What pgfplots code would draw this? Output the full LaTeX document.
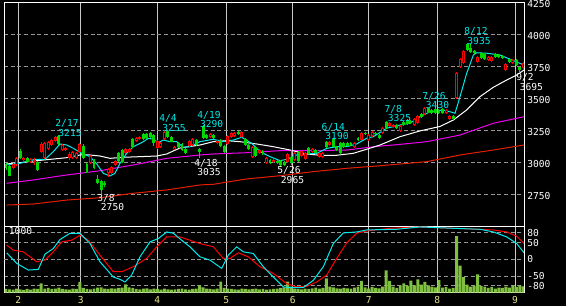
\documentclass[border=0pt]{standalone}
\usepackage{pgfplots}
\usepackage{pgfplotstable}
\pgfplotsset{compat=1.18}
\usepackage{fontspec}
\setmainfont{DejaVu Sans Mono}
\newcommand\lab{\fontsize{7.2}{8}\selectfont}
\definecolor{cgreen}{RGB}{0,215,0}
\definecolor{cred}{RGB}{255,0,0}
\definecolor{ccyan}{RGB}{0,235,235}
\definecolor{cmag}{RGB}{240,0,240}
\definecolor{cmared}{RGB}{230,30,0}
\definecolor{cvol}{RGB}{128,192,64}
\definecolor{cgrid}{RGB}{150,150,150}
\definecolor{cvgrid}{RGB}{200,200,200}
\definecolor{cxlab}{RGB}{230,230,140}

\pgfplotstableread{
i o h l c
2 2953 2992 2945 2984
3 2979 3045 2972 3036
5 3018 3045 3010 3036
7 3000 3034 2992 3026
8 3005 3034 2979 3016
10 3080 3155 3072 3143
11 3034 3160 3026 3151
12 3104 3167 3096 3159
13 3135 3185 3128 3174
14 3166 3208 3158 3200
16 3096 3143 3088 3135
17 3094 3120 3085 3109
18 3036 3080 3018 3063
19 3031 3088 3024 3078
20 3036 3080 3028 3070
21 3083 3150 3075 3141
24 2995 3057 2987 3049
29 2914 2953 2888 2945
30 2914 2970 2906 2961
31 2979 3020 2972 3013
34 3070 3110 3062 3102
35 3083 3112 3075 3102
37 3169 3196 3160 3188
38 3180 3205 3172 3195
43 3109 3172 3100 3166
44 3120 3160 3112 3151
45 3180 3255 3172 3239
48 3102 3130 3094 3122
52 3127 3177 3120 3169
53 3135 3190 3128 3180
58 3200 3228 3192 3221
60 3153 3177 3145 3169
63 3143 3213 3135 3205
64 3195 3240 3188 3231
65 3205 3240 3198 3231
67 3195 3247 3188 3239
70 3039 3125 3031 3117
72 3070 3104 3062 3096
74 2995 3042 2987 3034
76 3002 3026 2995 3018
80 3005 3072 2997 3065
82 3018 3083 3010 3075
84 3049 3099 3042 3091
85 3023 3078 3016 3070
87 3083 3110 3075 3102
89 3044 3078 3036 3070
90 3039 3078 3031 3070
92 3135 3170 3128 3161
99 3117 3161 3110 3153
101 3174 3235 3166 3227
103 3174 3221 3166 3213
104 3205 3247 3198 3239
107 3227 3275 3220 3266
109 3284 3313 3276 3305
110 3278 3300 3270 3291
112 3247 3292 3240 3284
116 3291 3345 3284 3336
117 3305 3370 3297 3362
119 3377 3430 3370 3422
125 3383 3416 3375 3409
126 3338 3370 3330 3362
128 3500 3705 3495 3695
129 3747 3813 3740 3805
130 3778 3880 3770 3872
134 3786 3828 3778 3820
137 3799 3833 3791 3825
138 3794 3833 3786 3825
142 3721 3776 3713 3768
144 3778 3807 3770 3799
147 3734 3781 3726 3773
}\upc

\pgfplotstableread{
i o h l c
0 2984 2997 2940 2953
1 2973 2987 2890 2895
4 3088 3104 3024 3031
6 3036 3045 2998 3005
9 3005 3013 2932 2940
15 3205 3215 3133 3141
22 3130 3140 3024 3031
23 2984 2992 2918 2927
25 3018 3026 2947 2955
26 2870 2901 2830 2838
27 2856 2865 2750 2784
28 2841 2850 2805 2823
32 3070 3078 3005 3013
33 3096 3104 2998 3005
36 3180 3188 3115 3122
39 3221 3228 3172 3180
40 3221 3230 3180 3188
41 3227 3235 3192 3200
42 3213 3220 3127 3148
46 3247 3252 3192 3200
47 3200 3208 3155 3161
49 3148 3156 3110 3117
50 3143 3150 3088 3096
51 3102 3110 3062 3070
54 3174 3182 3128 3135
55 3102 3110 3035 3083
56 3284 3290 3180 3188
57 3213 3220 3180 3188
59 3213 3220 3180 3188
61 3174 3182 3120 3127
62 3127 3135 3075 3083
66 3239 3247 3213 3221
68 3180 3188 3128 3135
69 3135 3143 3094 3102
71 3122 3130 3042 3049
73 3091 3099 3057 3065
75 3018 3026 2987 2995
77 3013 3020 2990 2997
78 3013 3020 2965 2979
79 3005 3013 2972 2979
81 3044 3096 2979 2992
83 3083 3091 3005 3013
86 3109 3117 3062 3070
88 3096 3104 3062 3070
91 3161 3170 3115 3122
93 3180 3190 3112 3120
94 3122 3130 3088 3096
95 3148 3156 3068 3075
96 3153 3161 3110 3117
97 3153 3161 3120 3127
98 3148 3156 3128 3135
100 3188 3196 3166 3174
102 3231 3240 3213 3221
105 3231 3240 3213 3221
106 3213 3221 3180 3188
108 3317 3325 3258 3266
111 3291 3300 3258 3266
113 3317 3325 3284 3291
114 3330 3338 3291 3299
115 3325 3333 3297 3305
118 3377 3385 3344 3352
120 3422 3428 3388 3395
121 3409 3416 3380 3388
122 3414 3422 3380 3388
123 3409 3416 3380 3388
124 3414 3422 3380 3388
127 3362 3370 3330 3336
131 3924 3935 3870 3877
132 3891 3924 3856 3864
133 3872 3880 3844 3852
135 3852 3860 3805 3813
136 3846 3854 3797 3805
139 3846 3856 3817 3825
140 3838 3846 3817 3825
141 3830 3838 3805 3813
143 3805 3813 3778 3786
145 3799 3807 3752 3760
146 3747 3755 3695 3721
}\downc

\pgfplotsset{
  ebar/.style={draw=none, mark=none, forget plot,
    error bars/.cd, y dir=plus, y explicit, error mark=none,
    error bar style={#1}},
}

\begin{document}
\begin{tikzpicture}
\fill[black] (0,0) rectangle (424.5pt,229.5pt);

% ---------------- main price panel ----------------
\begin{axis}[
  at={(3pt,59.775pt)}, anchor=south west, scale only axis,
  width=390pt, height=168pt,
  xmin=-0.57, xmax=147.16, ymin=2500, ymax=4250,
  axis line style={white, line width=0.75pt},
  major tick length=0pt, tick style={draw=none},
  xtick={3.49,21.22,42.98,62.59,81.45,103.04,122.53,144.6}, xticklabels={},
  ytick={2750,3000,3250,3500,3750,4000},
  yticklabels={2750,3000,3250,3500,3750,4000},
  extra y ticks={4250}, extra y tick labels={4250},
  extra y tick style={ymajorgrids=false},
  yticklabel pos=right,
  yticklabel style={anchor=west, inner sep=0pt, xshift=2.25pt, yshift=-1.1pt, text=white, font=\lab},
  xmajorgrids, ymajorgrids,
  x grid style={cvgrid, line width=0.75pt},
  y grid style={cgrid, line width=0.75pt, dash pattern=on 3pt off 2pt},
]
\addplot[cmared, line width=0.75pt] coordinates {(0.2,2666)(7.76,2674)(17.24,2705)(26.7,2723)(36.16,2758)(45.65,2784)(55.11,2823)(58.89,2828)(68.38,2870)(77.84,2895)(87.3,2927)(96.79,2953)(106.25,2973)(119.52,3005)(128.98,3057)(138.44,3096)(147.16,3135)};
\addplot[cmag, line width=0.75pt] coordinates {(0.2,2836)(7.76,2862)(17.24,2901)(26.7,2934)(36.16,2979)(45.65,3031)(55.11,3057)(58.89,3065)(68.38,3075)(77.84,3091)(87.3,3091)(96.79,3096)(106.25,3127)(110.03,3135)(119.52,3161)(128.98,3213)(138.44,3305)(147.16,3356)};
\addplot[white, line width=0.75pt] coordinates {(0.2,2987)(3.98,2997)(7.76,3010)(12.5,3023)(17.24,3036)(21.02,3057)(23.86,3057)(26.7,3049)(29.55,3031)(33.32,3039)(38.07,3044)(42.81,3049)(45.65,3065)(49.43,3112)(55.11,3135)(58.89,3161)(62.7,3169)(66.48,3161)(71.22,3143)(75.94,3122)(80.68,3096)(85.43,3065)(89.2,3055)(93.95,3055)(98.66,3070)(102.47,3102)(106.25,3135)(111.93,3200)(117.61,3245)(123.3,3280)(127.07,3330)(130.88,3409)(134.66,3513)(138.44,3586)(142.24,3643)(145.09,3682)(147.16,3721)};
\addplot[ccyan, line width=0.75pt] coordinates {(0.2,2979)(3.98,2992)(8.24,3023)(11.08,3023)(13.44,3083)(15.34,3143)(17.24,3135)(19.12,3109)(21.5,3070)(23.86,3044)(25.77,2987)(27.64,2914)(29.55,2893)(30.97,2914)(32.39,2992)(34.29,3070)(36.16,3122)(39.0,3161)(40.43,3187)(41.85,3180)(43.27,3153)(44.69,3174)(46.59,3161)(48.49,3161)(50.37,3117)(52.27,3122)(55.11,3161)(58.89,3180)(61.73,3161)(64.57,3174)(66.96,3195)(69.8,3148)(72.16,3083)(75.0,3044)(77.84,3013)(79.74,3023)(82.59,3057)(85.43,3065)(88.27,3070)(91.11,3109)(93.95,3122)(96.79,3122)(99.63,3143)(102.47,3188)(104.35,3200)(108.15,3266)(111.93,3291)(114.77,3305)(117.61,3356)(120.45,3395)(124.23,3409)(126.14,3395)(127.56,3383)(128.98,3513)(130.88,3695)(132.76,3838)(133.72,3856)(136.56,3852)(140.34,3838)(143.18,3805)(146.02,3773)(147.16,3760)};
% up candles: red hollow
\addplot[ebar={draw=cred, line width=0.75pt}] table[x=i, y=l, y error plus expr=\thisrow{h}-\thisrow{l}] {\upc};
\addplot[ebar={draw=cred, line width=2.25pt}] table[x=i, y=o, y error plus expr=\thisrow{c}-\thisrow{o}] {\upc};
\addplot[ebar={draw=black, line width=0.75pt}] table[x=i, y expr=\thisrow{o}+7.8125, y error plus expr={max(\thisrow{c}-\thisrow{o}-15.625,0)}] {\upc};
% down candles: green filled
\addplot[ebar={draw=cgreen, line width=0.75pt}] table[x=i, y=l, y error plus expr=\thisrow{h}-\thisrow{l}] {\downc};
\addplot[ebar={draw=cgreen, line width=2.2pt}] table[x=i, y=c, y error plus expr=\thisrow{o}-\thisrow{c}] {\downc};
\end{axis}

% ---------------- volume panel ----------------
\begin{axis}[
  at={(3pt,10.05pt)}, anchor=south west, scale only axis,
  width=390pt, height=49.725pt,
  xmin=-0.57, xmax=147.16, ymin=0, ymax=1000,
  axis line style={white, line width=0.75pt},
  major tick length=0pt, tick style={draw=none},
  xtick={3.49,21.22,42.98,62.59,81.45,103.04,122.53,144.6},
  xticklabels={2,3,4,5,6,7,8,9},
  xticklabel style={anchor=north, inner sep=0pt, yshift=-2.6pt, text=cxlab, font=\lab},
  ytick={100,250,750,900}, yticklabels={-80,-50,50,80},
  extra y ticks={500}, extra y tick labels={0},
  extra y tick style={major grid style={white, line width=0.75pt, dash pattern=on 3pt off 2pt}},
  yticklabel pos=right,
  yticklabel style={anchor=west, inner sep=0pt, xshift=2.25pt, text=white, font=\lab},
  xmajorgrids, ymajorgrids,
  x grid style={cvgrid, line width=0.75pt},
  y grid style={cgrid, line width=0.75pt, dash pattern=on 3pt off 2pt},
]
\addplot[ybar, bar width=2.2pt, fill=cvol, draw=none] coordinates {(0,55)(1,50)(2,45)(3,60)(4,50)(5,40)(6,55)(7,45)(8,60)(9,55)(10,140)(11,60)(12,70)(13,55)(14,60)(15,75)(16,55)(17,50)(18,45)(19,60)(20,55)(21,160)(22,70)(23,55)(24,50)(25,60)(26,75)(27,80)(28,60)(29,55)(30,65)(31,60)(32,70)(33,75)(34,125)(35,80)(36,70)(37,55)(38,50)(39,60)(40,65)(41,50)(42,60)(43,55)(44,45)(45,60)(46,50)(47,45)(48,50)(49,55)(50,60)(51,50)(52,45)(53,55)(54,60)(55,110)(56,80)(57,60)(58,55)(59,50)(60,60)(61,165)(62,70)(63,60)(64,55)(65,50)(66,45)(67,60)(68,55)(69,50)(70,55)(71,60)(72,50)(73,55)(74,45)(75,50)(76,55)(77,60)(78,70)(79,80)(80,165)(81,90)(82,60)(83,55)(84,50)(85,60)(86,55)(87,65)(88,75)(89,60)(90,70)(91,215)(92,90)(93,80)(94,65)(95,60)(96,70)(97,65)(98,60)(99,75)(100,90)(101,175)(102,80)(103,60)(104,85)(105,70)(106,65)(107,90)(108,335)(109,175)(110,90)(111,70)(112,110)(113,140)(114,100)(115,180)(116,110)(117,200)(118,120)(119,160)(120,110)(121,90)(122,80)(123,190)(124,75)(125,85)(126,60)(127,70)(128,850)(129,405)(130,235)(131,120)(132,90)(133,100)(134,275)(135,100)(136,90)(137,70)(138,85)(139,60)(140,75)(141,70)(142,90)(143,75)(144,110)(145,85)(146,110)(147,95)};
\end{axis}

% ---------------- oscillator ----------------
\begin{axis}[
  at={(3pt,10.05pt)}, anchor=south west, scale only axis,
  width=390pt, height=49.725pt,
  xmin=-0.57, xmax=147.16, ymin=-100, ymax=100,
  hide axis,
]
\addplot[cred, line width=0.75pt] coordinates {(0.2,43)(2.07,28)(4.91,23)(8.72,-7)(11.08,-2)(13.44,23)(15.82,53)(18.66,58)(21.02,73)(23.38,58)(26.7,13)(30.48,-37)(32.87,-37)(36.16,-22)(39.97,3)(42.81,38)(45.65,68)(49.43,68)(52.27,58)(55.11,48)(58.89,38)(61.73,3)(63.64,3)(66.0,20)(68.84,8)(72.16,-22)(75.94,-42)(79.74,-73)(82.59,-83)(85.43,-81)(88.27,-68)(91.11,-47)(93.95,3)(96.79,50)(99.63,79)(102.47,86)(109.09,94)(117.61,98)(127.07,94)(138.44,89)(142.24,83)(145.09,70)(147.16,48)};
\addplot[ccyan, line width=0.75pt] coordinates {(0.2,20)(3.04,-12)(6.34,-32)(9.18,-30)(11.08,16)(13.44,33)(15.34,60)(18.18,79)(21.02,79)(23.86,48)(26.7,-7)(30.48,-53)(32.39,-60)(33.81,-68)(35.71,-47)(38.07,8)(40.91,53)(43.27,63)(45.65,83)(47.53,79)(49.91,58)(52.27,38)(55.11,8)(57.95,-2)(61.28,-27)(63.15,13)(65.54,38)(67.41,23)(70.26,18)(73.1,-22)(75.94,-53)(78.78,-83)(81.62,-85)(84.46,-85)(87.3,-63)(90.14,-22)(92.98,48)(95.82,80)(99.63,83)(102.47,89)(110.99,91)(117.61,98)(127.07,94)(134.66,91)(138.44,83)(142.24,68)(145.09,48)(147.16,20)};
\end{axis}

% ---------------- annotations (pixel grid) ----------------
\begin{scope}[x=0.75pt, y=0.75pt, every node/.style={font=\lab, inner sep=0pt}]
\node[text=ccyan] at (67,183) {2/17};
\node[text=ccyan] at (70,173) {3215};
\node[text=white] at (106,108) {3/8};
\node[text=white] at (112.5,99) {2750};
\node[text=ccyan] at (168,187.5) {4/4};
\node[text=ccyan] at (174,177.5) {3255};
\node[text=ccyan] at (209,191) {4/19};
\node[text=ccyan] at (211.7,182.3) {3290};
\node[text=white] at (206,143) {4/18};
\node[text=white] at (209,134) {3035};
\node[text=white] at (289,135.7) {5/26};
\node[text=white] at (292.5,126.3) {2965};
\node[text=ccyan] at (333.3,179) {6/14};
\node[text=ccyan] at (337,169.7) {3190};
\node[text=ccyan] at (393.3,196.7) {7/8};
\node[text=ccyan] at (399.5,187.7) {3325};
\node[text=ccyan] at (434,209.3) {7/26};
\node[text=ccyan] at (437.5,201) {3430};
\node[text=ccyan] at (476,274.3) {8/12};
\node[text=ccyan] at (479,265.3) {3935};
\node[text=white] at (525,228.7) {9/2};
\node[text=white] at (531.3,219.3) {3695};
\node[text=white] at (20.5,74.5) {1000};
\end{scope}
\pgfresetboundingbox
\useasboundingbox (0,0) rectangle (424.5pt,229.5pt);
\end{tikzpicture}
\end{document}
